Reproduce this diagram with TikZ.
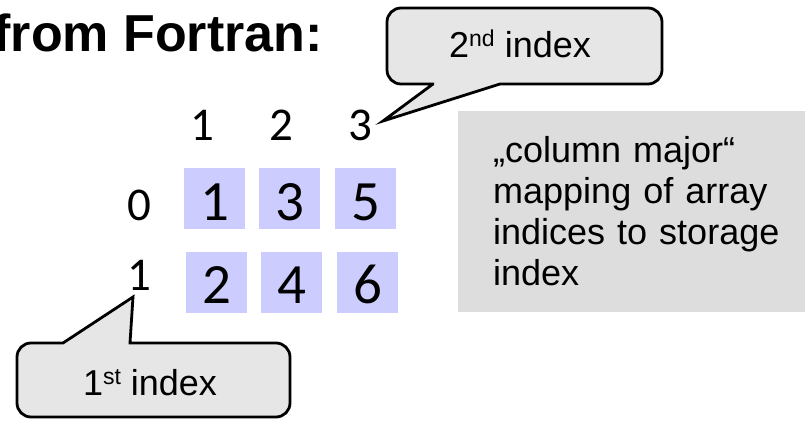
\documentclass[tikz,border=0pt]{standalone}
\usepackage{fontspec}
\setmainfont{Liberation Sans}
\newfontfamily\calibri{Carlito}
\definecolor{callgrey}{HTML}{E6E6E6}
\definecolor{boxgrey}{HTML}{DDDDDD}
\definecolor{cellblue}{HTML}{CCCCFF}
\newcommand\mysup[1]{\raisebox{11pt}{\fontsize{23}{23}\selectfont #1}}
\begin{document}
\begin{tikzpicture}[x=1pt,y=-1pt,
  callout/.style={draw=black, line width=2.8pt, fill=callgrey, line join=miter},
  cell/.style={fill=cellblue, draw=none, minimum width=61pt, minimum height=61pt, inner sep=0pt, outer sep=0pt},
  celldigit/.style={font=\calibri\fontsize{57}{57}\selectfont, anchor=base, inner sep=0pt},
  idx/.style={font=\calibri\fontsize{47}{47}\selectfont, anchor=base, inner sep=0pt},
  calltext/.style={font=\fontsize{36}{41}\selectfont, anchor=base, inner sep=0pt},
]
\useasboundingbox (0,0) rectangle (805,420);

% title
\node[anchor=base east, font=\bfseries\fontsize{52}{52}\selectfont, inner sep=0pt] (title) at (323,52) {from Fortran:};

% column headers
\node[idx] (h1) at (202,140) {1};
\node[idx] (h2) at (281,140) {2};
\node[idx] (h3) at (360,140) {3};

% row labels
\node[idx] (r0) at (139,220) {0};
\node[idx] (r1) at (139,290) {1};

% cells
\node[cell] (c11) at (214.5,198.5) {};
\node[cell] (c12) at (289.5,198.5) {};
\node[cell] (c13) at (365.5,198.5) {};
\node[cell] (c21) at (216.5,282) {};
\node[cell] (c22) at (291.5,282) {};
\node[cell] (c23) at (367.5,282) {};
\node[celldigit] (d11) at ([yshift=-21.5pt]c11.center) {1};
\node[celldigit] (d12) at ([yshift=-21.5pt]c12.center) {3};
\node[celldigit] (d13) at ([yshift=-21.5pt]c13.center) {5};
\node[celldigit] (d21) at ([yshift=-21pt]c21.center) {2};
\node[celldigit] (d22) at ([yshift=-21pt]c22.center) {4};
\node[celldigit] (d23) at ([yshift=-21pt]c23.center) {6};

% grey explanation box
\node[fill=boxgrey, anchor=north west, minimum width=347pt, minimum height=201pt, inner sep=0pt] (expl) at (458,111) {};
\node[anchor=base west, inner sep=0pt, text width=300pt, align=left, font=\fontsize{36}{41.3}\selectfont] (expltext) at (493,162)
  {„column major“\\mapping of array\\indices to storage\\index};

% callout for 2nd index
\coordinate (tip2) at (383,121);
\draw[callout] (420,84) -- (433,84) -- (tip2) -- (500,84) -- (510,84) [rounded corners=14pt]
  -- (662,84) -- (662,8) -- (387,8) -- (387,84) -- cycle;
\node[calltext] (t2) at (520,58) {2\mysup{nd} index};

% callout for 1st index
\coordinate (tip1) at (133,297);
\draw[callout] (160,343) -- (130,343) -- (tip1) -- (63,343) -- (53,343) [rounded corners=14pt]
  -- (17,343) -- (17,417) -- (290,417) -- (290,343) -- cycle;
\node[calltext] (t1) at (150,395) {1\mysup{st} index};
\end{tikzpicture}
\end{document}
